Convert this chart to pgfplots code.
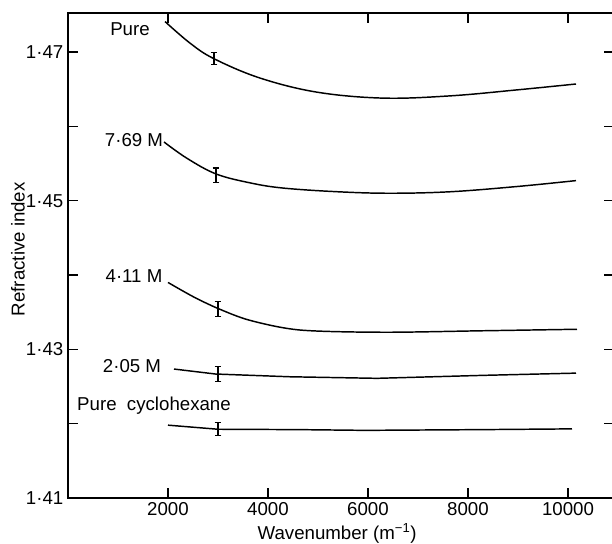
\documentclass[border=0pt]{standalone}
\usepackage{fontspec}
\setmainfont{Liberation Sans}
\usepackage{pgfplots}
\pgfplotsset{compat=1.18}
\begin{document}
\begin{tikzpicture}
\begin{axis}[scale only axis,width=409.5pt,height=363.75pt,
  xmin=0,xmax=10920,ymin=1.41,ymax=1.47525,scaled x ticks=false,
  xtick={2000,4000,6000,8000,10000},xticklabels={2000,4000,6000,8000,10000},
  ytick={1.41,1.42,1.43,1.44,1.45,1.46,1.47},yticklabels={1·41,,1·43,,1·45,,1·47},
  major tick length=7.5pt,tick style={black,line width=0.8pt},axis line style={line width=0.8pt},
  tick label style={font=\fontsize{14}{16}\selectfont},
  label style={font=\fontsize{14}{16}\selectfont},
  xlabel={Wavenumber (m\textsuperscript{−1})},ylabel={Refractive index},
  xlabel style={at={(axis description cs:0.493,-0.074)},anchor=center},
  ylabel style={at={(axis description cs:-0.0916,0.513)},anchor=center},
  clip=false]
% curves
\addplot[black,line width=1.1pt,smooth,tension=0.6] coordinates {(1940,1.4741) (2440,1.4712) (2920,1.4691) (3840,1.4665) (4980,1.4646) (6300,1.4638) (7640,1.4641) (8970,1.4649) (10160,1.4657)};
\addplot[black,line width=1.1pt,smooth,tension=0.6] coordinates {(1920,1.4579) (2380,1.4557) (2960,1.4536) (3640,1.4524) (4300,1.4517) (5400,1.4512) (6440,1.4510) (7640,1.4512) (8970,1.4519) (10160,1.4527)};
\addplot[black,line width=1.1pt,smooth,tension=0.5] coordinates {(2000,1.4390) (2500,1.4371) (3000,1.4355) (3640,1.4339) (4640,1.4326) (6300,1.4323) (8300,1.4325) (10180,1.4327)};
\addplot[black,line width=1.1pt] coordinates {(2120,1.42735) (2950,1.42668) (4440,1.42631) (6180,1.4261) (8300,1.4265) (10160,1.4268)};
\addplot[black,line width=1.1pt] coordinates {(2000,1.4198) (3000,1.41925) (4600,1.4192) (5940,1.4191) (8300,1.4192) (10080,1.4193)};
% error bars
\addplot[draw=none,mark=none,error bars/.cd,y dir=both,y explicit,
  error bar style={draw=black,line width=0.8pt},error mark options={draw=black,rotate=90,mark size=2.5pt,line width=0.8pt}]
  coordinates {(2920,1.4691) +- (0,0.0008) (2960,1.4534) +- (0,0.001) (3000,1.4354) +- (0,0.001) (3000,1.42668) +- (0,0.001) (3000,1.41925) +- (0,0.0009)};
\node[font=\fontsize{14}{16}\selectfont] at (axis cs:1240,1.4731) {Pure};
\node[font=\fontsize{14}{16}\selectfont] at (axis cs:1320,1.4582) {7·69 M};
\node[font=\fontsize{14}{16}\selectfont] at (axis cs:1320,1.4399) {4·11 M};
\node[font=\fontsize{14}{16}\selectfont] at (axis cs:1280,1.4278) {2·05 M};
\node[font=\fontsize{14}{16}\selectfont] at (axis cs:1720,1.4224) {Pure\ \ cyclohexane};
\end{axis}
\pgfresetboundingbox
\path[use as bounding box] (-51pt,-34.5pt) rectangle (408pt,373.5pt);
\end{tikzpicture}
\end{document}
